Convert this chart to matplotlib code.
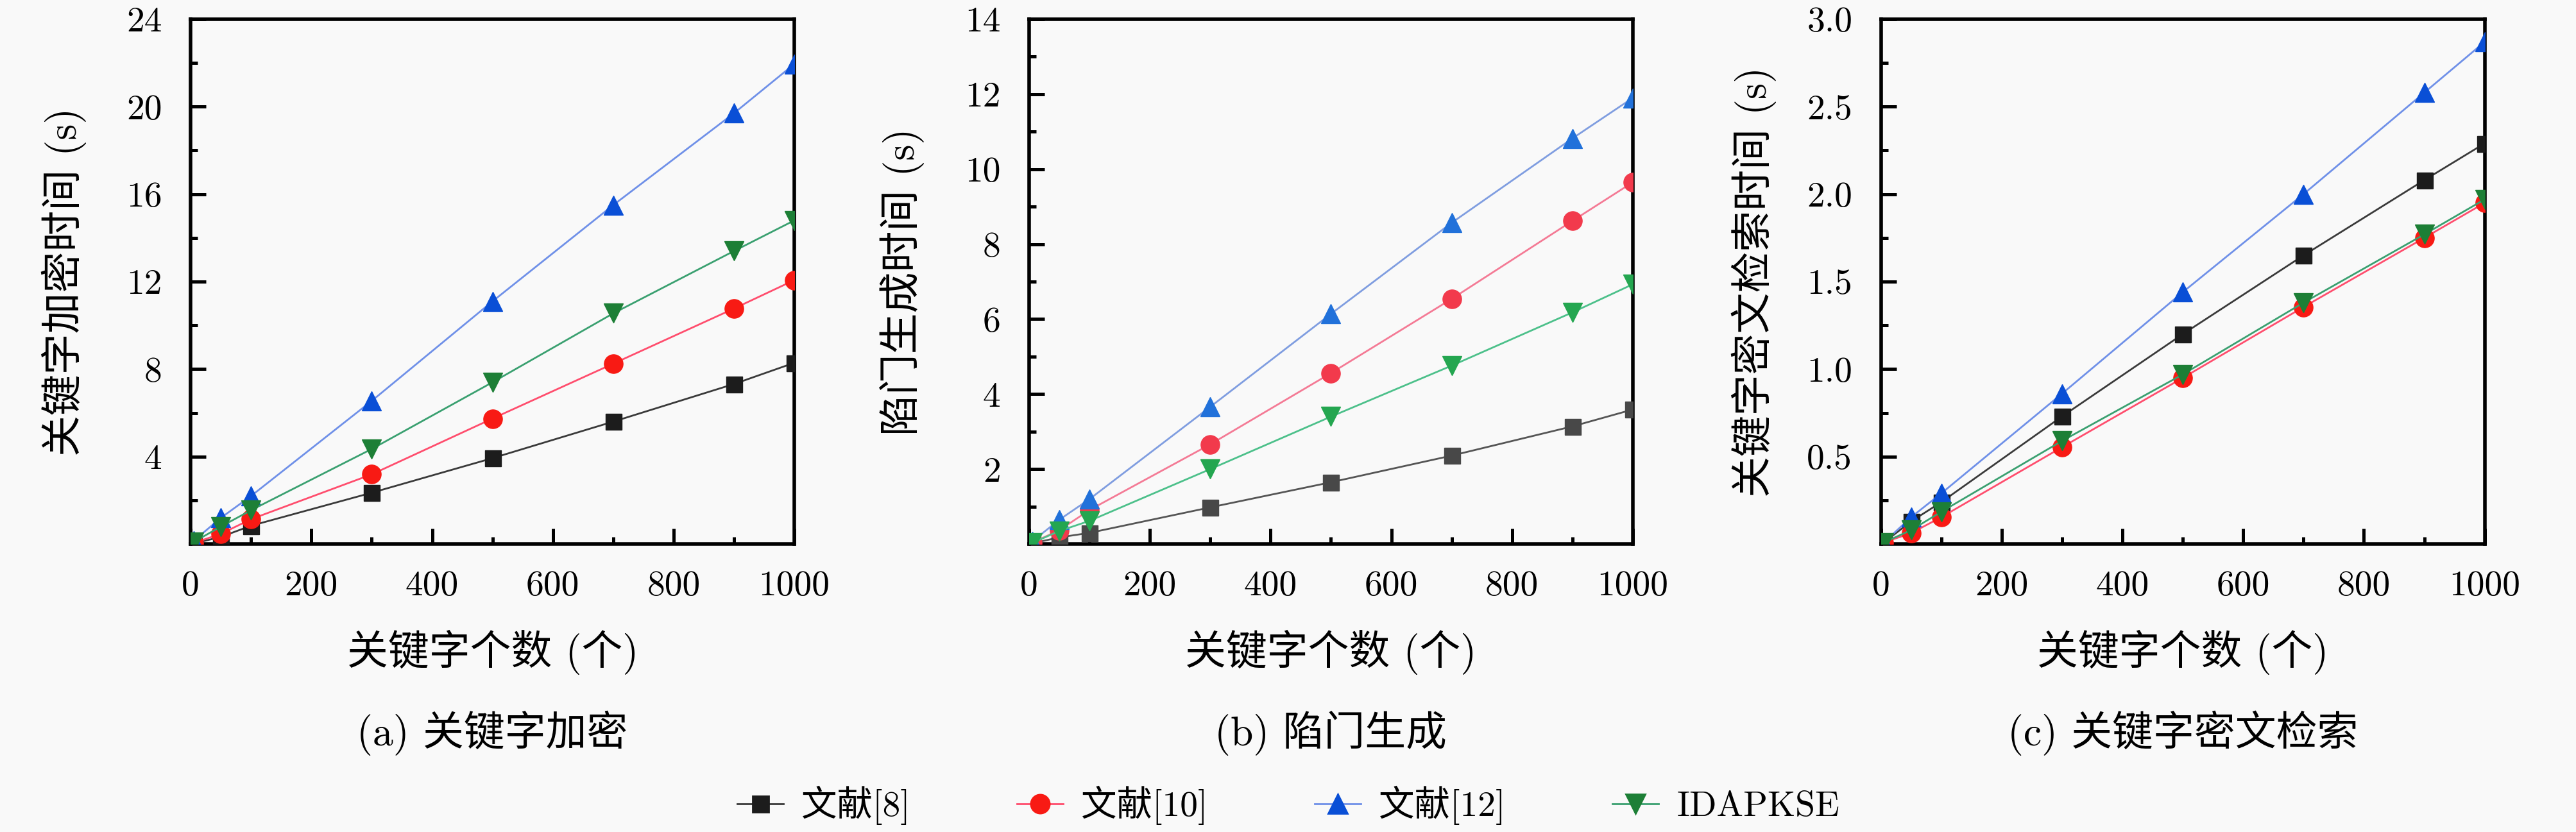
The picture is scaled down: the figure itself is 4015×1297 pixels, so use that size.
import numpy as np
import matplotlib
matplotlib.use("Agg")
import matplotlib.pyplot as plt
from matplotlib.lines import Line2D

plt.rcParams["font.family"] = ["cmr10", "Noto Sans CJK SC", "DejaVu Sans"]
plt.rcParams["mathtext.fontset"] = "cm"
plt.rcParams["axes.formatter.use_mathtext"] = True

# ============================================================
# 0. Data
# ============================================================
keyword_counts = [5, 50, 100, 300, 500, 700, 900, 1000]

series_names = ["文献[8]", "文献[10]", "文献[12]", "IDAPKSE"]

# (a) keyword encryption time (s)
enc_ref8 = [0.03, 0.33, 0.84, 2.35, 3.93, 5.60, 7.32, 8.29]
enc_ref10 = [0.05, 0.47, 1.14, 3.19, 5.74, 8.25, 10.77, 12.07]
enc_ref12 = [0.15, 1.20, 2.20, 6.55, 11.10, 15.50, 19.70, 21.95]
enc_idapkse = [0.10, 0.80, 1.55, 4.35, 7.40, 10.55, 13.40, 14.80]

# (b) trapdoor generation time (s)
trap_ref8 = [0.02, 0.18, 0.30, 0.98, 1.65, 2.36, 3.14, 3.59]
trap_ref10 = [0.04, 0.37, 0.91, 2.66, 4.56, 6.54, 8.62, 9.65]
trap_ref12 = [0.07, 0.65, 1.20, 3.66, 6.14, 8.57, 10.82, 11.90]
trap_idapkse = [0.03, 0.35, 0.62, 2.00, 3.40, 4.76, 6.18, 6.93]

# (c) ciphertext search time (s)
search_ref8 = [0.01, 0.13, 0.24, 0.73, 1.20, 1.65, 2.08, 2.29]
search_ref10 = [0.01, 0.063, 0.154, 0.554, 0.95, 1.355, 1.75, 1.95]
search_ref12 = [0.01, 0.154, 0.29, 0.86, 1.44, 2.00, 2.58, 2.87]
search_idapkse = [0.01, 0.08, 0.185, 0.59, 0.97, 1.38, 1.77, 1.97]

panels = [
    {
        "values": [enc_ref8, enc_ref10, enc_ref12, enc_idapkse],
        "ylabel": "关键字加密时间 (s)",
        "caption": "(a) 关键字加密",
        "ylim": 24,
        "major": [4, 8, 12, 16, 20, 24],
        "minor": [2, 6, 10, 14, 18, 22],
        "marker_colors": ["#1c1c1c", "#f81a14", "#0a4fd6", "#1d7f36"],
        "line_colors": ["#3a3a3a", "#ff4d6d", "#6f90e8", "#3aa070"],
    },
    {
        "values": [trap_ref8, trap_ref10, trap_ref12, trap_idapkse],
        "ylabel": "陷门生成时间 (s)",
        "caption": "(b) 陷门生成",
        "ylim": 14,
        "major": [2, 4, 6, 8, 10, 12, 14],
        "minor": [1, 3, 5, 7, 9, 11, 13],
        "marker_colors": ["#484848", "#f23a4c", "#2171da", "#24a650"],
        "line_colors": ["#555555", "#f47a95", "#7f9de0", "#4cc08a"],
    },
    {
        "values": [search_ref8, search_ref10, search_ref12, search_idapkse],
        "ylabel": "关键字密文检索时间 (s)",
        "caption": "(c) 关键字密文检索",
        "ylim": 3.0,
        "major": [0.5, 1.0, 1.5, 2.0, 2.5, 3.0],
        "minor": [0.25, 0.75, 1.25, 1.75, 2.25, 2.75],
        "marker_colors": ["#1c1c1c", "#f81a14", "#0a4fd6", "#1d7f36"],
        "line_colors": ["#3a3a3a", "#ff4d6d", "#6f90e8", "#3aa070"],
    },
]

markers = ["s", "o", "^", "v"]
marker_sizes = [9, 10.5, 11, 11]

# ============================================================
# 1. Figure
# ============================================================
bg = "#f9f9f9"
fig = plt.figure(figsize=(20.08, 6.485), dpi=200, facecolor=bg)

lefts = [0.074, 0.3994, 0.730]
bottom, width, height = 0.346, 0.2343, 0.631

for k, p in enumerate(panels):
    ax = fig.add_axes([lefts[k], bottom, width, height], facecolor=bg)
    for i, vals in enumerate(p["values"]):
        ax.plot(
            keyword_counts, vals,
            color=p["line_colors"][i], linewidth=1.0,
            marker=markers[i], markersize=marker_sizes[i],
            markerfacecolor=p["marker_colors"][i],
            markeredgecolor=p["marker_colors"][i],
            markeredgewidth=0.5, zorder=3,
        )

    ax.set_xlim(0, 1000)
    ax.set_ylim(0, p["ylim"])
    ax.set_xticks([0, 200, 400, 600, 800, 1000])
    ax.set_xticks([100, 300, 500, 700, 900], minor=True)
    ax.set_yticks(p["major"])
    ax.set_yticks(p["minor"], minor=True)
    if k == 2:
        ax.set_yticklabels([f"{v:.1f}" for v in p["major"]])
    else:
        ax.set_yticklabels([str(v) for v in p["major"]])
    ax.set_xticklabels(["0", "200", "400", "600", "800", "1000"])

    for s in ax.spines.values():
        s.set_linewidth(2.0)
    ax.tick_params(which="major", direction="in", length=8.5, width=1.8,
                   labelsize=20, top=False, right=False)
    ax.tick_params(axis="x", which="major", pad=15)
    ax.tick_params(axis="y", which="major", pad=16)
    ax.tick_params(which="minor", direction="in", length=4, width=1.8,
                   top=False, right=False)

    ax.set_xlabel("关键字个数 (个)", fontsize=23, va="center")
    ax.xaxis.set_label_coords(0.5, -0.206)
    ax.set_ylabel(p["ylabel"], fontsize=23, va="center")
    ax.yaxis.set_label_coords(-0.21, 0.5)

    ax.text(0.5, -0.36, p["caption"], transform=ax.transAxes,
            ha="center", va="center", fontsize=23)

# Legend
legend_colors = panels[0]["marker_colors"]
legend_line_colors = panels[0]["line_colors"]
handles = [
    Line2D([0], [0], color=legend_line_colors[i], linewidth=1.0,
           marker=markers[i], markersize=marker_sizes[i],
           markerfacecolor=legend_colors[i], markeredgecolor=legend_colors[i])
    for i in range(4)
]
fig.legend(handles, series_names, loc="center", bbox_to_anchor=(0.5, 0.032),
           ncol=4, frameon=False, fontsize=20, handlelength=1.3,
           handletextpad=0.5, columnspacing=3.0)

fig.savefig("out.png", dpi=200, facecolor=bg)
plt.close(fig)
